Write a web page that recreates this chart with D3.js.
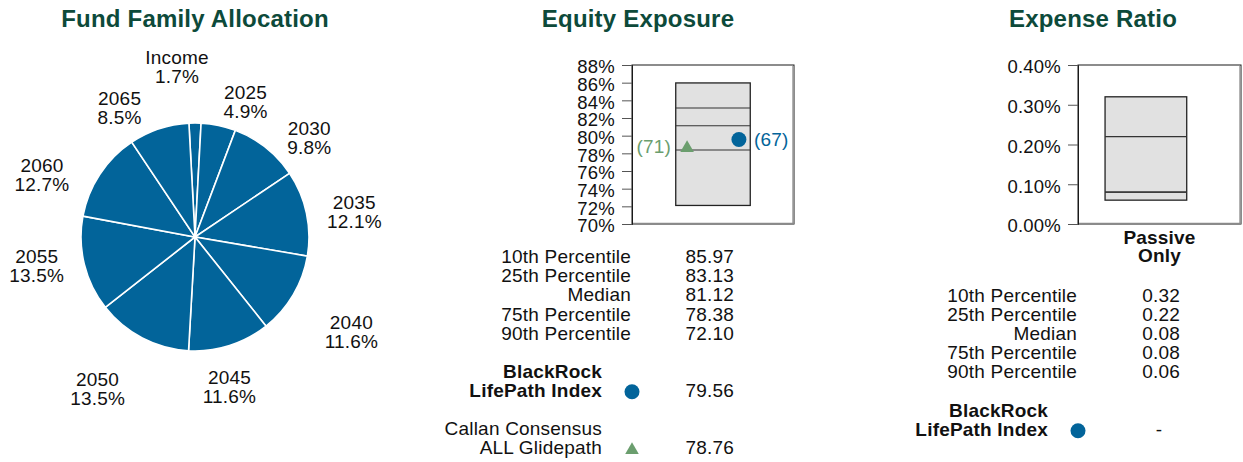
<!DOCTYPE html>
<html>
<head>
<meta charset="utf-8">
<script src="https://cdn.jsdelivr.net/npm/d3@7"></script>
<style>
  html, body { margin: 0; padding: 0; background: #ffffff; }
  svg { display: block; font-family: "Liberation Sans", Arial, sans-serif; }
</style>
</head>
<body>
<svg id="chart" width="1243" height="462"></svg>
<script>
// ---- data ----
const sliceNames = ["Income", "2025", "2030", "2035", "2040", "2045", "2050", "2055", "2060", "2065"];
const sliceShares = [1.7, 4.9, 9.8, 12.1, 11.6, 11.6, 13.5, 13.5, 12.7, 8.5];

const statLabels = ["10th Percentile", "25th Percentile", "Median", "75th Percentile", "90th Percentile"];

const equityStats = [85.97, 83.13, 81.12, 78.38, 72.10];
const equityTicks = [70, 72, 74, 76, 78, 80, 82, 84, 86, 88];
const fundEquity = 79.56;
const fundEquityRank = 67;
const glideEquity = 78.76;
const glideEquityRank = 71;

const expenseStats = [0.32, 0.22, 0.08, 0.08, 0.06];
const expenseTicks = [0.00, 0.10, 0.20, 0.30, 0.40];
const fundExpenseText = "-";

// ---- styling ----
const TITLE_COLOR = "#0d4a3a";
const BLUE = "#02649a";
const GREEN = "#6b9e6e";
const TEXT = "#111111";
const FS = 19;        // body text
const FS_TICK = 18.5; // axis tick labels
const LS = 0.2;       // letter spacing

const svg = d3.select("#chart");

function title(x, text) {
  svg.append("text")
    .attr("x", x).attr("y", 27)
    .attr("text-anchor", "middle")
    .attr("font-size", 24).attr("font-weight", "bold")
    .attr("letter-spacing", 0.2)
    .attr("fill", TITLE_COLOR)
    .text(text);
}

// ================= Fund Family Allocation (pie) =================
title(195, "Fund Family Allocation");

const pieCx = 195, pieCy = 237, pieR = 114;
const total = d3.sum(sliceShares);
const startA = -Math.PI * sliceShares[0] / total;   // centre the first slice at the top

const pie = d3.pie().sort(null).value(d => d)
  .startAngle(startA).endAngle(startA + 2 * Math.PI);
const arcs = pie(sliceShares);
const arc = d3.arc().innerRadius(0).outerRadius(pieR);

const pieG = svg.append("g").attr("transform", `translate(${pieCx},${pieCy})`);
pieG.selectAll("path.slice")
  .data(arcs)
  .join("path")
  .attr("class", "slice")
  .attr("d", arc)
  .attr("fill", BLUE)
  .attr("stroke", "#ffffff")
  .attr("stroke-width", 1.6);

// label placement: outside each slice, with small nudges to avoid crowding
const labelNudge = [[-18, -13], [17, 18], [13, 24], [0, 8], [16, 15], [-15, 0], [-22, 13], [0, -9], [-17, 24], [-24, 20]];
const labelG = pieG.append("g").attr("font-size", FS).attr("letter-spacing", LS)
  .attr("fill", TEXT).attr("text-anchor", "middle");
arcs.forEach((a, i) => {
  const mid = (a.startAngle + a.endAngle) / 2;
  const lx = 163 * Math.sin(mid) + labelNudge[i][0];
  const ly = -157 * Math.cos(mid) + labelNudge[i][1];
  const t = labelG.append("text").attr("x", lx).attr("y", ly);
  t.append("tspan").attr("x", lx).attr("y", ly - 9.5 + 6.8).text(sliceNames[i]);
  t.append("tspan").attr("x", lx).attr("y", ly + 9.5 + 6.8).text(sliceShares[i].toFixed(1) + "%");
});

// ================= shared box panel =================
function boxPanel(opts) {
  const { left, right, top, bottom, domain, ticks, fmt, stats, boxFrom, boxTo } = opts;
  const y = d3.scaleLinear().domain(domain).range([bottom, top]);
  const x = d3.scaleLinear().domain([0, 1]).range([left, right]);
  const g = svg.append("g");

  // frame
  g.append("rect")
    .attr("x", left).attr("y", top)
    .attr("width", right - left).attr("height", bottom - top)
    .attr("fill", "#ffffff").attr("stroke", "#1a1a1a").attr("stroke-width", 1);
  g.append("line")
    .attr("x1", right - 1).attr("x2", right - 1).attr("y1", top + 1).attr("y2", bottom)
    .attr("stroke", "#9a9a9a").attr("stroke-width", 1.5);
  g.append("line")
    .attr("x1", left).attr("x2", right).attr("y1", bottom - 0.5).attr("y2", bottom - 0.5)
    .attr("stroke", "#8a8a8a").attr("stroke-width", 1.5);

  // y axis
  const axis = d3.axisLeft(y).tickValues(ticks).tickFormat(fmt).tickSize(10).tickPadding(7);
  const ax = g.append("g").attr("transform", `translate(${left},0)`).call(axis);
  ax.select(".domain").attr("stroke", "#1a1a1a");
  ax.selectAll(".tick line").attr("stroke", "#555555");
  ax.selectAll(".tick text")
    .attr("font-size", FS_TICK).attr("fill", TEXT)
    .attr("letter-spacing", LS)
    .attr("font-family", "Liberation Sans, Arial, sans-serif")
    .attr("dy", "0.42em");

  // box from 10th to 90th percentile with interior percentile lines
  g.append("rect")
    .attr("x", x(boxFrom)).attr("y", y(stats[0]))
    .attr("width", x(boxTo) - x(boxFrom))
    .attr("height", y(stats[4]) - y(stats[0]))
    .attr("fill", "#e1e1e1").attr("stroke", "#222222").attr("stroke-width", 1.3);
  g.selectAll("line.pct")
    .data(stats.slice(1, 4))
    .join("line")
    .attr("class", "pct")
    .attr("x1", x(boxFrom)).attr("x2", x(boxTo))
    .attr("y1", d => y(d)).attr("y2", d => y(d))
    .attr("stroke", "#333333").attr("stroke-width", 1.2);

  return { x, y, g };
}

function statTable(opts) {
  const { labelRight, valueRight, firstBase, step, values, digits } = opts;
  const g = svg.append("g").attr("font-size", FS).attr("letter-spacing", LS).attr("fill", TEXT);
  statLabels.forEach((lab, i) => {
    g.append("text").attr("x", labelRight).attr("y", firstBase + i * step)
      .attr("text-anchor", "end").text(lab);
    g.append("text").attr("x", valueRight).attr("y", firstBase + i * step)
      .attr("text-anchor", "end").text(values[i].toFixed(digits));
  });
}

function twoLine(x, y1, y2, l1, l2, bold) {
  const t = svg.append("text").attr("font-size", FS).attr("letter-spacing", LS).attr("fill", TEXT)
    .attr("text-anchor", "end").attr("font-weight", bold ? "bold" : "normal");
  t.append("tspan").attr("x", x).attr("y", y1).text(l1);
  t.append("tspan").attr("x", x).attr("y", y2).text(l2);
}

const triangle = d3.symbol().type(d3.symbolTriangle).size(80);

// ================= Equity Exposure =================
title(638, "Equity Exposure");
const eq = boxPanel({
  left: 632, right: 794, top: 65, bottom: 224,
  domain: [70, 88], ticks: equityTicks, fmt: d => d + "%",
  stats: equityStats, boxFrom: 0.27, boxTo: 0.73
});

eq.g.append("circle")
  .attr("cx", eq.x(0.66)).attr("cy", eq.y(fundEquity)).attr("r", 7.5)
  .attr("fill", BLUE);
eq.g.append("text")
  .attr("x", eq.x(0.66) + 15).attr("y", eq.y(fundEquity) + 6.8)
  .attr("font-size", FS).attr("letter-spacing", LS).attr("fill", BLUE)
  .text(`(${fundEquityRank})`);

eq.g.append("path")
  .attr("d", triangle())
  .attr("transform", `translate(${eq.x(0.34)},${eq.y(glideEquity) + 1.5})`)
  .attr("fill", GREEN);
eq.g.append("text")
  .attr("x", eq.x(0.34) - 16).attr("y", eq.y(glideEquity) + 6.8)
  .attr("text-anchor", "end")
  .attr("font-size", FS).attr("letter-spacing", LS).attr("fill", GREEN)
  .text(`(${glideEquityRank})`);

statTable({ labelRight: 631, valueRight: 734, firstBase: 262.7, step: 19.3, values: equityStats, digits: 2 });

twoLine(602, 378.3, 397.3, "BlackRock", "LifePath Index", true);
svg.append("circle").attr("cx", 632).attr("cy", 391.7).attr("r", 7.5).attr("fill", BLUE);
svg.append("text").attr("x", 734).attr("y", 397.3).attr("text-anchor", "end")
  .attr("font-size", FS).attr("letter-spacing", LS).attr("fill", TEXT).text(fundEquity.toFixed(2));

twoLine(602, 435, 454.3, "Callan Consensus", "ALL Glidepath", false);
svg.append("path").attr("d", triangle())
  .attr("transform", "translate(632,450)").attr("fill", GREEN);
svg.append("text").attr("x", 734).attr("y", 454.3).attr("text-anchor", "end")
  .attr("font-size", FS).attr("letter-spacing", LS).attr("fill", TEXT).text(glideEquity.toFixed(2));

// ================= Expense Ratio =================
title(1093, "Expense Ratio");
const ex = boxPanel({
  left: 1078, right: 1241, top: 65, bottom: 224,
  domain: [0, 0.4], ticks: expenseTicks, fmt: d => d.toFixed(2) + "%",
  stats: expenseStats, boxFrom: 0.166, boxTo: 0.667
});

const cat = svg.append("text").attr("font-size", FS).attr("letter-spacing", LS).attr("font-weight", "bold")
  .attr("fill", TEXT).attr("text-anchor", "middle");
cat.append("tspan").attr("x", 1159.5).attr("y", 244).text("Passive");
cat.append("tspan").attr("x", 1159.5).attr("y", 262).text("Only");

statTable({ labelRight: 1077, valueRight: 1180, firstBase: 301.7, step: 19.15, values: expenseStats, digits: 2 });

twoLine(1048, 416.7, 435.7, "BlackRock", "LifePath Index", true);
svg.append("circle").attr("cx", 1078).attr("cy", 430.7).attr("r", 7.5).attr("fill", BLUE);
svg.append("text").attr("x", 1159).attr("y", 435.7).attr("text-anchor", "middle")
  .attr("font-size", FS).attr("fill", TEXT).text(fundExpenseText);
</script>
</body>
</html>
